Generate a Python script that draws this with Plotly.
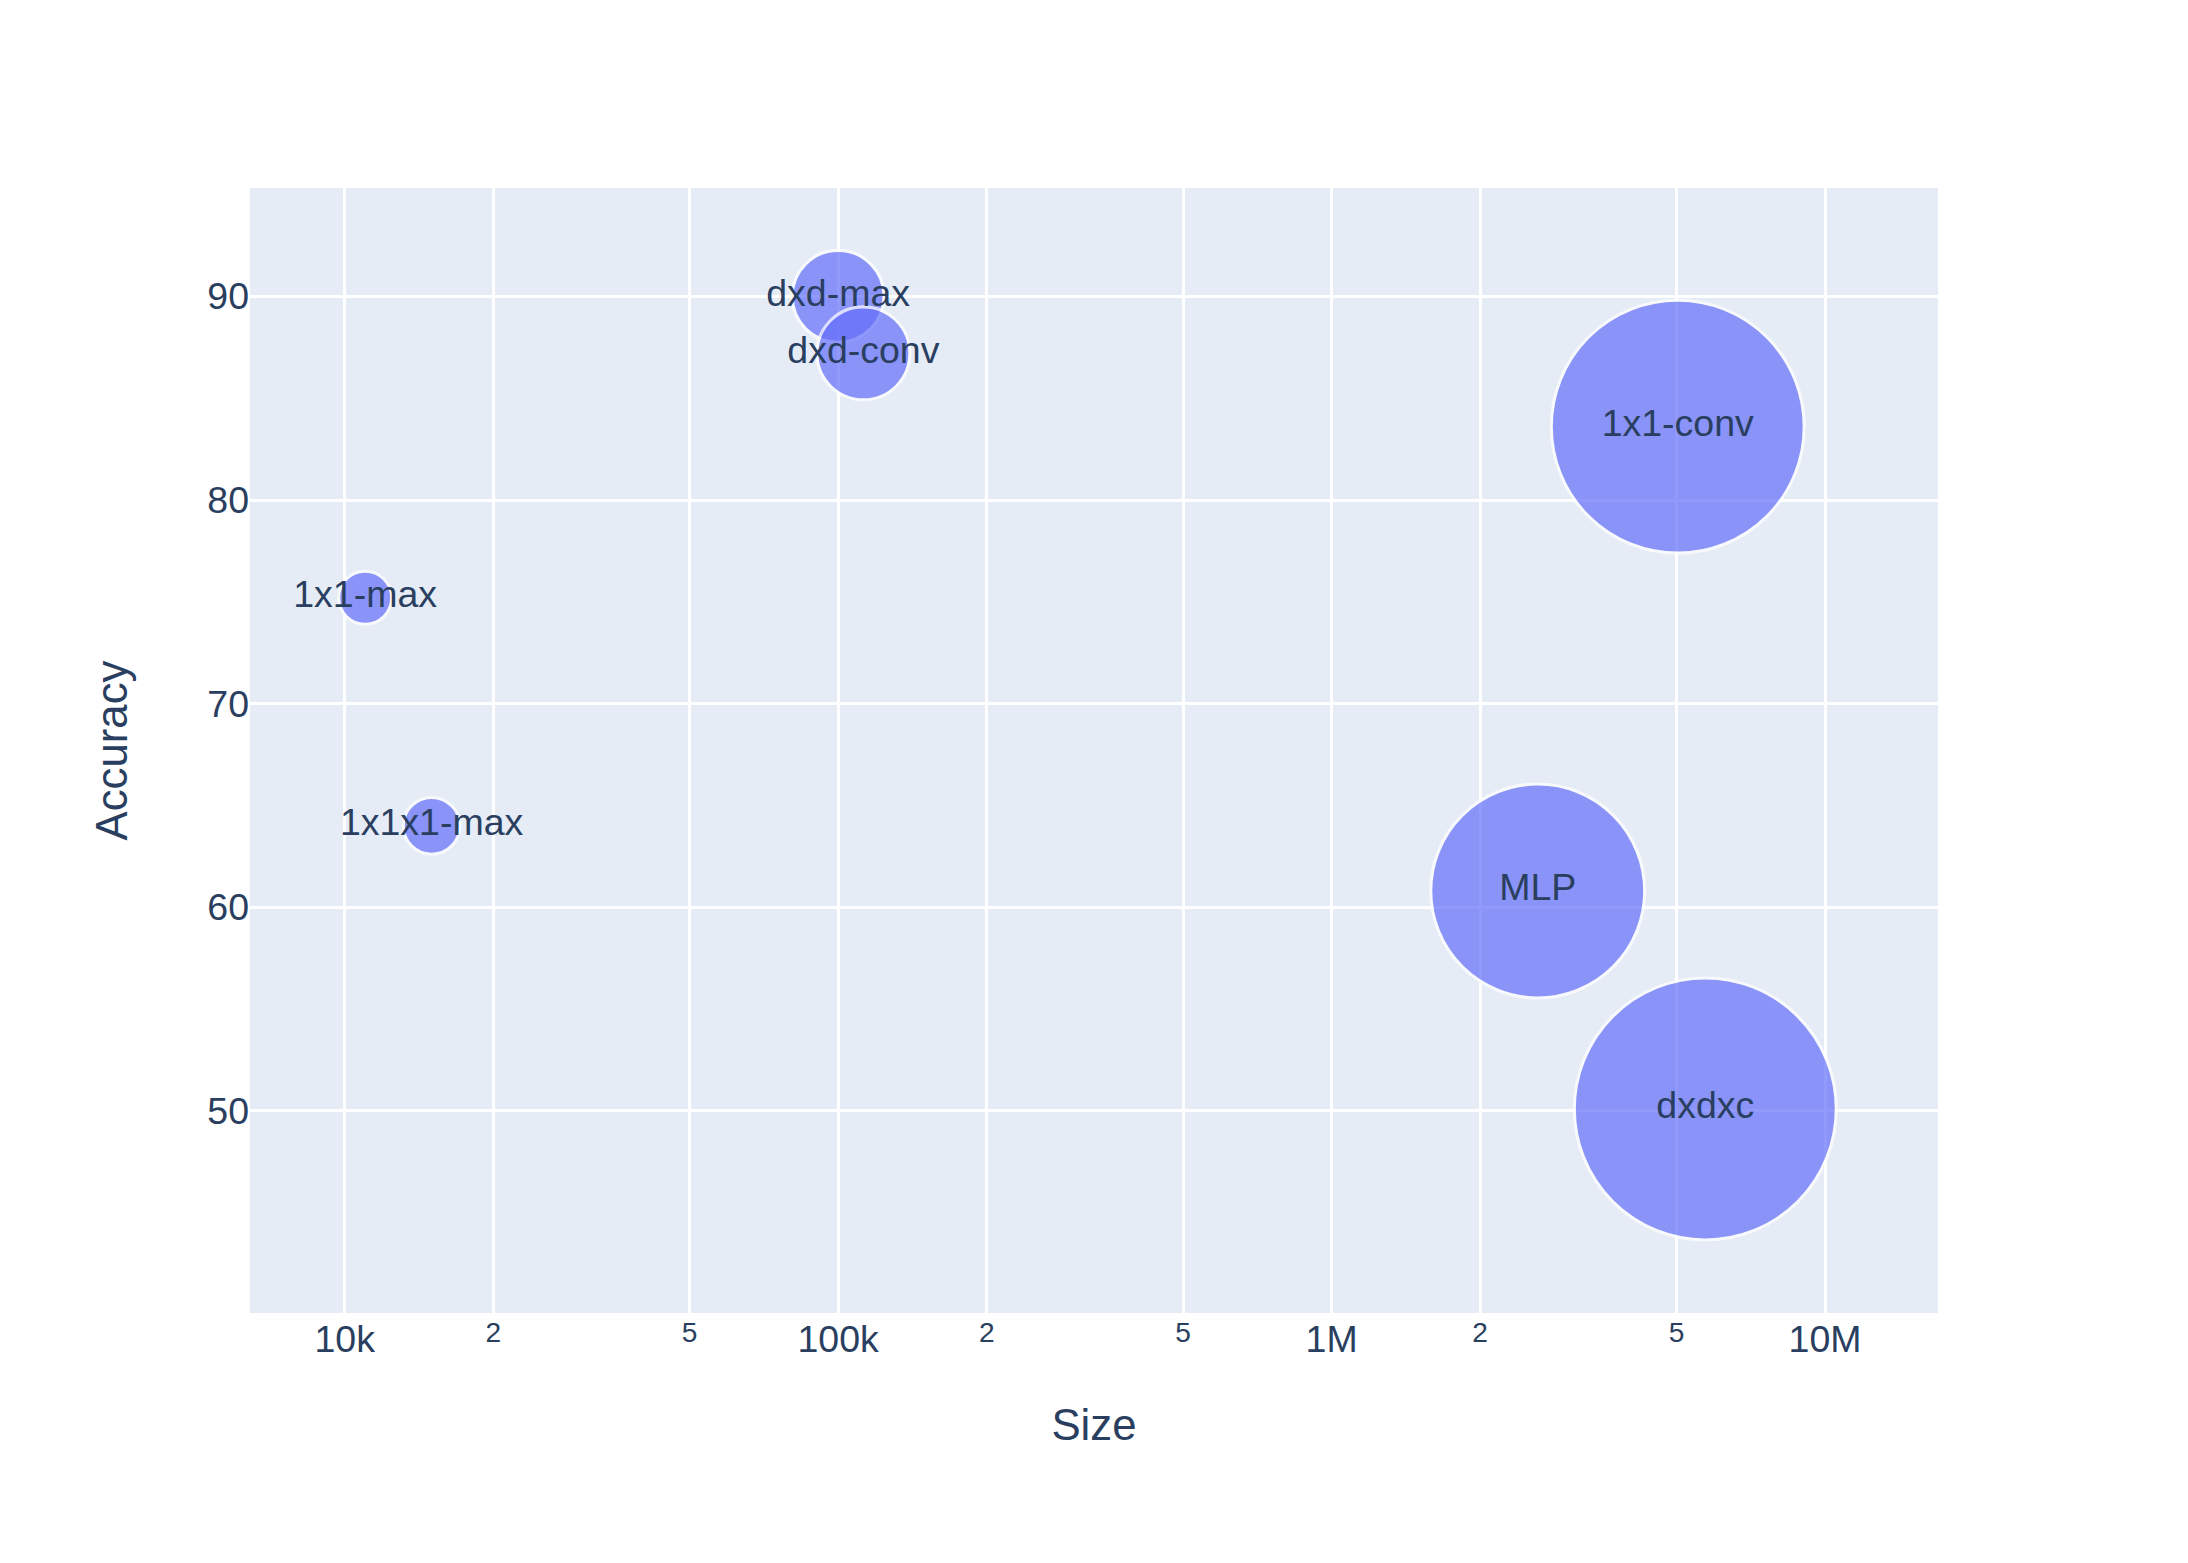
import plotly.graph_objects as go

# Data
models = ["dxd-max", "dxd-conv", "1x1-conv", "1x1-max", "1x1x1-max", "MLP", "dxdxc"]
size_params = [100000, 112500, 5030000, 11000, 15000, 2617000, 5720000]
accuracy = [90.0, 87.2, 83.6, 75.2, 64.0, 60.8, 50.1]
bubble_value = [12.3, 12.6, 93.2, 4.1, 4.7, 66.7, 100.0]

S = 3.125  # scale of the original 700x500 render
max_diam = 262

fig = go.Figure(
    go.Scatter(
        x=size_params,
        y=accuracy,
        text=models,
        mode="markers+text",
        textposition="middle center",
        marker=dict(
            size=bubble_value,
            sizemode="area",
            sizeref=2.0 * max(bubble_value) / (max_diam ** 2),
            color="#636efa",
            opacity=0.7,
            line=dict(color="white", width=S),
        ),
        textfont=dict(size=12 * S, color="#2a3f5f"),
        showlegend=False,
    )
)

fig.update_layout(
    template="plotly",
    width=2188,
    height=1563,
    margin=dict(l=80 * S, r=80 * S, t=60 * S, b=80 * S),
    font=dict(family="Liberation Sans, Arial, sans-serif", size=12 * S, color="#2a3f5f"),
    plot_bgcolor="#E5ECF6",
    paper_bgcolor="white",
)
fig.update_xaxes(
    type="log",
    range=[3.808, 7.229],
    dtick="D2",
    title=dict(text="Size", font=dict(size=14 * S), standoff=50),
    gridcolor="white",
    gridwidth=S,
)
fig.update_yaxes(
    range=[40.08, 95.32],
    dtick=10,
    title=dict(text="Accuracy", font=dict(size=14 * S), standoff=65),
    gridcolor="white",
    gridwidth=S,
    zeroline=False,
)

fig.write_html("out.html")
